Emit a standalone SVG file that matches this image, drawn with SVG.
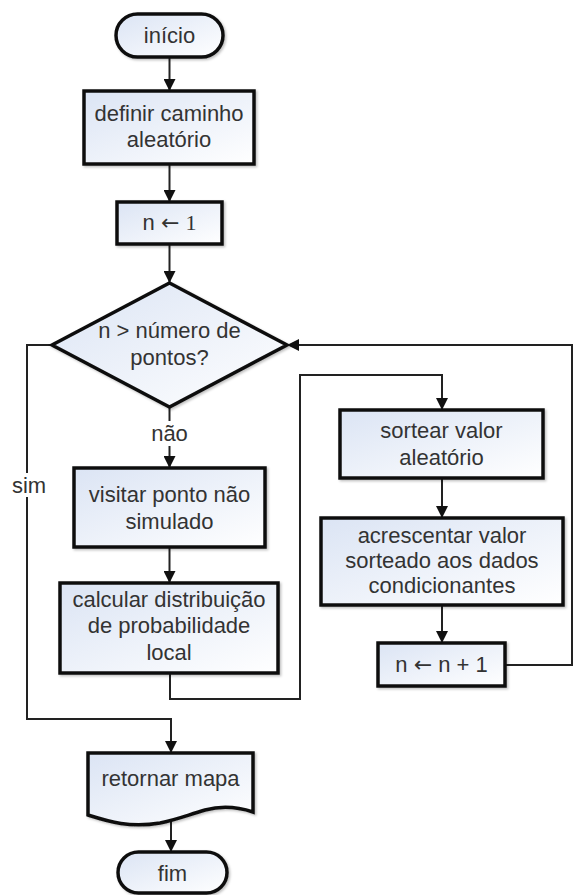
<svg xmlns="http://www.w3.org/2000/svg" width="573" height="895" viewBox="0 0 573 895">
<defs>
<linearGradient id="g" x1="0" y1="0" x2="1" y2="1">
<stop offset="0" stop-color="#dbe4f4"/>
<stop offset="1" stop-color="#ffffff"/>
</linearGradient>
<filter id="sh" x="-10%" y="-10%" width="130%" height="130%">
<feDropShadow dx="1.5" dy="1.5" stdDeviation="1" flood-color="#000" flood-opacity="0.25"/>
</filter>
<marker id="arr" markerUnits="userSpaceOnUse" markerWidth="12" markerHeight="12" viewBox="0 0 12 12" refX="12" refY="6" orient="auto">
<path d="M0,0 L12,6 L0,12 Z" fill="#111"/>
</marker>
</defs>
<style>
.n{fill:url(#g);stroke:#111;stroke-width:3.5;filter:url(#sh)}
.t{font-family:"Liberation Sans",Arial,sans-serif;font-size:22px;fill:#333;text-anchor:middle}
.ar{font-family:"DejaVu Sans",sans-serif;font-size:22px}
.c{fill:none;stroke:#222;stroke-width:2}
.lb{fill:#fff}
</style>
<rect width="573" height="895" fill="#fff"/>
<g id="connectors">
<path class="c" d="M169.5,57 V91" marker-end="url(#arr)"/>
<path class="c" d="M169.5,164 V202" marker-end="url(#arr)"/>
<path class="c" d="M169.5,244 V283" marker-end="url(#arr)"/>
<path class="c" d="M169.5,407 V468" marker-end="url(#arr)"/>
<path class="c" d="M169.5,547 V583" marker-end="url(#arr)"/>
<path class="c" d="M170,673 V699 H300 V375 H442 V410" marker-end="url(#arr)"/>
<path class="c" d="M442,478 V518" marker-end="url(#arr)"/>
<path class="c" d="M442,605 V643" marker-end="url(#arr)"/>
<path class="c" d="M505,665 H572 V345 H287" marker-end="url(#arr)"/>
<path class="c" d="M52,345 H27 V719 H171 V753" marker-end="url(#arr)"/>
<path class="c" d="M171,818 V852" marker-end="url(#arr)"/>
<rect class="lb" x="147" y="421" width="45" height="25"/>
<text class="t" x="169.5" y="441">não</text>
<rect class="lb" x="10" y="473" width="38" height="24"/>
<text class="t" x="29" y="493">sim</text>
</g>
<g id="inicio">
<rect class="n" x="116" y="14" width="107" height="43" rx="21.5"/>
<text class="t" x="169.5" y="43">início</text>
</g>
<g id="definir">
<rect class="n" x="84" y="91" width="170" height="73"/>
<text class="t" x="169" y="121">definir caminho</text>
<text class="t" x="169" y="147">aleatório</text>
</g>
<g id="n1">
<rect class="n" x="117" y="202" width="105" height="42"/>
<text class="t" x="169.5" y="230">n <tspan class="ar">←</tspan> <tspan font-family="Liberation Serif,serif">1</tspan></text>
</g>
<g id="decisao">
<polygon class="n" points="169.5,283 287,345 169.5,407 52,345"/>
<text class="t" x="169.5" y="338">n &gt; número de</text>
<text class="t" x="169.5" y="365">pontos?</text>
</g>
<g id="visitar">
<rect class="n" x="74" y="468" width="191" height="79"/>
<text class="t" x="169.5" y="502">visitar ponto não</text>
<text class="t" x="169.5" y="529">simulado</text>
</g>
<g id="calcular">
<rect class="n" x="60" y="583" width="218" height="90"/>
<text class="t" x="169" y="607">calcular distribuição</text>
<text class="t" x="169" y="633">de probabilidade</text>
<text class="t" x="169" y="660">local</text>
</g>
<g id="sortear">
<rect class="n" x="340" y="410" width="203" height="68"/>
<text class="t" x="441.5" y="438">sortear valor</text>
<text class="t" x="441.5" y="465">aleatório</text>
</g>
<g id="acrescentar">
<rect class="n" x="321" y="518" width="242" height="87"/>
<text class="t" x="442" y="543">acrescentar valor</text>
<text class="t" x="442" y="568">sorteado aos dados</text>
<text class="t" x="442" y="593">condicionantes</text>
</g>
<g id="incremento">
<rect class="n" x="378" y="643" width="127" height="43"/>
<text class="t" x="441.5" y="672">n <tspan class="ar">←</tspan> n + 1</text>
</g>
<g id="retornar">
<path class="n" d="M88,753 H253 V812 C235,806 220,806 205,810 C185,816 175,820 160,823 C130,828 110,822 88,815 Z"/>
<text class="t" x="170.5" y="786">retornar mapa</text>
</g>
<g id="fim">
<rect class="n" x="118" y="852" width="109" height="41" rx="20.5"/>
<text class="t" x="172.5" y="881">fim</text>
</g>
</svg>
